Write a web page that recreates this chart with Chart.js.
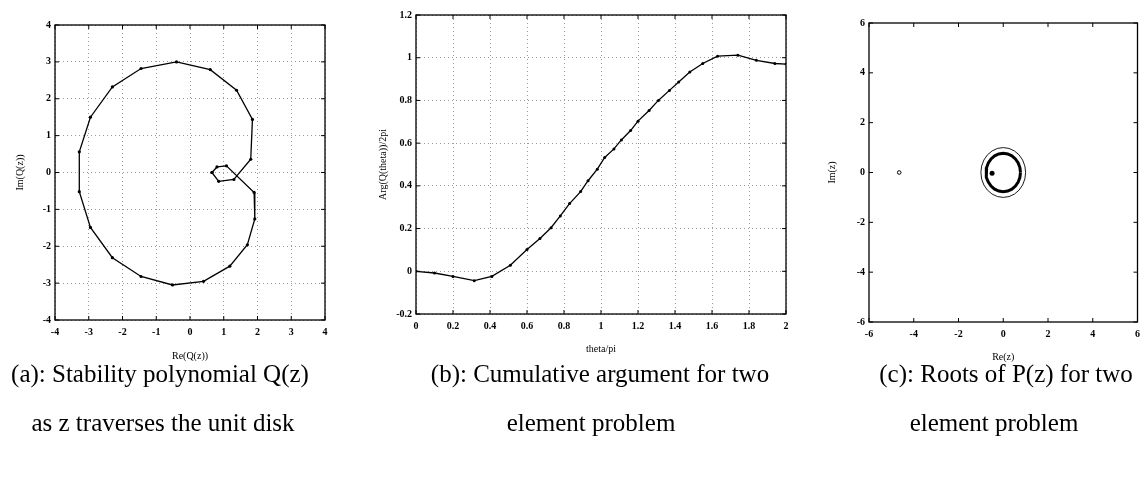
<!DOCTYPE html>
<html><head><meta charset="utf-8">
<script src="https://cdn.jsdelivr.net/npm/chart.js@4/dist/chart.umd.min.js"></script>
<style>
html,body{margin:0;padding:0;background:#fff;}
body{width:1146px;height:496px;position:relative;overflow:hidden;font-family:"Liberation Serif","DejaVu Serif",serif;color:#000;}
canvas{position:absolute;left:0;top:0;}
.cap{position:absolute;font-size:25px;white-space:nowrap;transform:translate(-50%,-50%);line-height:1;}
</style></head><body>
<canvas id="ca" width="1146" height="496"></canvas>
<canvas id="cb" width="1146" height="496"></canvas>
<canvas id="cc" width="1146" height="496"></canvas>
<div class="cap" style="left:160px;top:373px">(a): Stability polynomial Q(z)</div>
<div class="cap" style="left:163px;top:422px">as z traverses the unit disk</div>
<div class="cap" style="left:600px;top:373px">(b): Cumulative argument for two</div>
<div class="cap" style="left:591px;top:422px">element problem</div>
<div class="cap" style="left:1006px;top:373px">(c): Roots of P(z) for two</div>
<div class="cap" style="left:994px;top:422px">element problem</div>
<script>
// ---- (a) Q(z) on the unit circle ----
const reQ = [0.65, 0.80, 1.08, 1.90, 1.92, 1.70, 1.18, 0.40, -0.52, -1.45, -2.30, -2.95, -3.28, -3.28, -2.95, -2.30, -1.45, -0.40, 0.60, 1.38, 1.85, 1.80, 1.30, 0.85, 0.65];
const imQ = [0.00, 0.15, 0.18, -0.54, -1.26, -1.96, -2.54, -2.95, -3.05, -2.82, -2.31, -1.49, -0.52, 0.56, 1.50, 2.32, 2.82, 3.00, 2.79, 2.23, 1.44, 0.36, -0.19, -0.24, 0.00];
const ticksA = [-4, -3, -2, -1, 0, 1, 2, 3, 4];

// ---- (b) cumulative argument ----
const thetaOverPi = [0, 0.10, 0.20, 0.315, 0.41, 0.51, 0.60, 0.67, 0.73, 0.78, 0.83, 0.89, 0.93, 0.98, 1.02, 1.07, 1.11, 1.16, 1.20, 1.26, 1.31, 1.37, 1.42, 1.48, 1.55, 1.63, 1.74, 1.84, 1.94, 2.00];
const argQ = [0, -0.008, -0.024, -0.044, -0.024, 0.028, 0.102, 0.154, 0.204, 0.259, 0.317, 0.373, 0.424, 0.478, 0.533, 0.573, 0.615, 0.659, 0.703, 0.753, 0.800, 0.847, 0.886, 0.933, 0.973, 1.007, 1.012, 0.988, 0.973, 0.970];
const ticksBx = [0, 0.2, 0.4, 0.6, 0.8, 1, 1.2, 1.4, 1.6, 1.8, 2];
const ticksBy = [-0.2, 0, 0.2, 0.4, 0.6, 0.8, 1, 1.2];

// ---- (c) roots of P(z) ----
const unitRe = [1, 0.966, 0.866, 0.707, 0.5, 0.259, 0, -0.259, -0.5, -0.707, -0.866, -0.966, -1, -0.966, -0.866, -0.707, -0.5, -0.259, 0, 0.259, 0.5, 0.707, 0.866, 0.966, 1];
const unitIm = [0, 0.259, 0.5, 0.707, 0.866, 0.966, 1, 0.966, 0.866, 0.707, 0.5, 0.259, 0, -0.259, -0.5, -0.707, -0.866, -0.966, -1, -0.966, -0.866, -0.707, -0.5, -0.259, 0];
const ringRe = [0.77, 0.744, 0.667, 0.544, 0.385, 0.199, 0, -0.199, -0.385, -0.544, -0.667, -0.744, -0.77, -0.744, -0.667, -0.544, -0.385, -0.199, 0, 0.199, 0.385, 0.544, 0.667, 0.744, 0.77];
const ringIm = [0, 0.199, 0.385, 0.544, 0.667, 0.744, 0.77, 0.744, 0.667, 0.544, 0.385, 0.199, 0, -0.199, -0.385, -0.544, -0.667, -0.744, -0.77, -0.744, -0.667, -0.544, -0.385, -0.199, 0];
const dotRe = [-0.5];
const dotIm = [-0.03];
const openRe = [-4.65];
const openIm = [0];
const ticksC = [-6, -4, -2, 0, 2, 4, 6];

const zip = (xs, ys) => xs.map((x, i) => ({x: x, y: ys[i]}));
const FONT = '"Liberation Serif", "DejaVu Serif", serif';

const framePlugin = {
  id: 'frame',
  afterDraw(chart) {
    const {ctx, chartArea: a, scales} = chart;
    ctx.save();
    ctx.strokeStyle = '#000';
    ctx.lineWidth = 1.3;
    ctx.strokeRect(a.left, a.top, a.right - a.left, a.bottom - a.top);
    ctx.lineWidth = 1;
    ctx.beginPath();
    const L = 4;
    scales.x.ticks.forEach(t => {
      const px = scales.x.getPixelForValue(t.value);
      ctx.moveTo(px, a.bottom); ctx.lineTo(px, a.bottom - L);
      ctx.moveTo(px, a.top); ctx.lineTo(px, a.top + L);
    });
    scales.y.ticks.forEach(t => {
      const py = scales.y.getPixelForValue(t.value);
      ctx.moveTo(a.left, py); ctx.lineTo(a.left + L, py);
      ctx.moveTo(a.right, py); ctx.lineTo(a.right - L, py);
    });
    ctx.stroke();
    ctx.restore();
  }
};

function makeChart(id, frame, yTitleX, xTitleY, datasets, xr, yr, xTicks, yTicks, xTitle, yTitle, showGrid) {
  const yW = frame.l - (yTitleX - 6);
  const xH = (xTitleY + 6) - frame.b;
  const gridOpts = {display: showGrid, drawTicks: false, color: '#9a9a9a', lineWidth: 1};
  const borderOpts = {display: false, dash: [1, 3]};
  const fmt = v => String(v);
  new Chart(document.getElementById(id), {
    type: 'scatter',
    data: {datasets: datasets},
    plugins: [framePlugin],
    options: {
      responsive: false, animation: false, events: [],
      layout: {padding: {left: frame.l - yW, top: frame.t, right: 1146 - frame.r, bottom: 496 - frame.b - xH}},
      plugins: {legend: {display: false}, tooltip: {enabled: false}},
      scales: {
        x: {
          type: 'linear', min: xr[0], max: xr[1],
          afterBuildTicks: s => { s.ticks = xTicks.map(v => ({value: v})); },
          afterFit: s => { s.height = xH; },
          grid: gridOpts, border: borderOpts,
          ticks: {color: '#000', padding: 6, maxRotation: 0, autoSkip: false, callback: fmt, font: {family: FONT, size: 10, weight: 'bold'}},
          title: {display: true, text: xTitle, color: '#000', padding: 0, font: {family: FONT, size: 10}}
        },
        y: {
          type: 'linear', min: yr[0], max: yr[1],
          afterBuildTicks: s => { s.ticks = yTicks.map(v => ({value: v})); },
          afterFit: s => { s.width = yW; },
          grid: gridOpts, border: borderOpts,
          ticks: {color: '#000', padding: 4, autoSkip: false, callback: fmt, font: {family: FONT, size: 10, weight: 'bold'}},
          title: {display: true, text: yTitle, color: '#000', padding: 0, font: {family: FONT, size: 10}}
        }
      }
    }
  });
}

makeChart('ca', {l: 55, t: 25, r: 325, b: 320}, 20, 356,
  [{data: zip(reQ, imQ), showLine: true, borderColor: '#000', borderWidth: 1.3, pointRadius: 1.6, pointBackgroundColor: '#000', pointBorderWidth: 0}],
  [-4, 4], [-4, 4], ticksA, ticksA, 'Re(Q(z))', 'Im(Q(z))', true);

makeChart('cb', {l: 416, t: 15, r: 786, b: 314}, 383, 349,
  [{data: zip(thetaOverPi, argQ), showLine: true, borderColor: '#000', borderWidth: 1.3, pointRadius: 1.5, pointBackgroundColor: '#000', pointBorderWidth: 0}],
  [0, 2], [-0.2, 1.2], ticksBx, ticksBy, 'theta/pi', 'Arg(Q(theta))/2pi', true);

makeChart('cc', {l: 869, t: 23, r: 1139, b: 322}, 832, 357,
  [
    {data: zip(unitRe, unitIm), showLine: true, borderColor: '#000', borderWidth: 0.9, pointRadius: 0},
    {data: zip(ringRe, ringIm), showLine: true, borderColor: '#000', borderWidth: 3, pointRadius: 0},
    {data: zip(dotRe, dotIm), showLine: false, pointRadius: 2.5, pointBackgroundColor: '#000', pointBorderWidth: 0},
    {data: zip(openRe, openIm), showLine: false, pointRadius: 1.8, pointBackgroundColor: '#fff', pointBorderColor: '#000', pointBorderWidth: 1}
  ],
  [-6, 6], [-6, 6], ticksC, ticksC, 'Re(z)', 'Im(z)', false);
</script>
</body></html>
